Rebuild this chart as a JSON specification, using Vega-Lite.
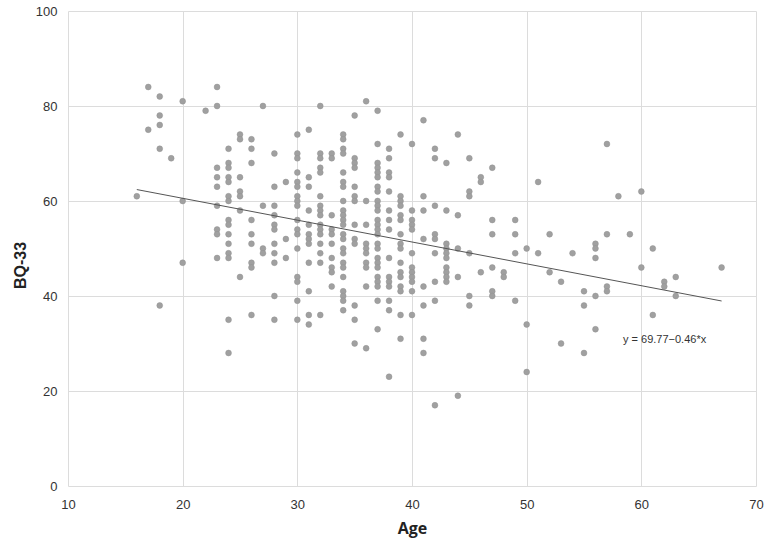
{
  "$schema": "https://vega.github.io/schema/vega-lite/v6.json",
  "width": 688,
  "height": 475,
  "autosize": {"type": "none"},
  "padding": {"left": 68, "top": 11, "right": 15, "bottom": 56},
  "background": "white",
  "config": {"view": {"stroke": null}},
  "datasets": {
    "pts": [
      {"age":16,"bq":61},
      {"age":17,"bq":84},{"age":17,"bq":75},
      {"age":18,"bq":82},{"age":18,"bq":78},{"age":18,"bq":76},{"age":18,"bq":71},{"age":18,"bq":38},
      {"age":19,"bq":69},
      {"age":20,"bq":81},{"age":20,"bq":60},{"age":20,"bq":47},
      {"age":22,"bq":79},
      {"age":23,"bq":84},{"age":23,"bq":80},{"age":23,"bq":67},{"age":23,"bq":65},{"age":23,"bq":63},{"age":23,"bq":59},{"age":23,"bq":54},{"age":23,"bq":53},{"age":23,"bq":48},
      {"age":24,"bq":71},{"age":24,"bq":68},{"age":24,"bq":67},{"age":24,"bq":65},{"age":24,"bq":64},{"age":24,"bq":61},{"age":24,"bq":60},{"age":24,"bq":56},{"age":24,"bq":55},{"age":24,"bq":53},{"age":24,"bq":51},{"age":24,"bq":49},{"age":24,"bq":48},{"age":24,"bq":35},{"age":24,"bq":28},
      {"age":25,"bq":74},{"age":25,"bq":73},{"age":25,"bq":65},{"age":25,"bq":62},{"age":25,"bq":61},{"age":25,"bq":58},{"age":25,"bq":44},
      {"age":26,"bq":73},{"age":26,"bq":71},{"age":26,"bq":68},{"age":26,"bq":56},{"age":26,"bq":53},{"age":26,"bq":51},{"age":26,"bq":47},{"age":26,"bq":46},{"age":26,"bq":36},
      {"age":27,"bq":80},{"age":27,"bq":59},{"age":27,"bq":50},{"age":27,"bq":49},
      {"age":28,"bq":70},{"age":28,"bq":63},{"age":28,"bq":59},{"age":28,"bq":57},{"age":28,"bq":55},{"age":28,"bq":54},{"age":28,"bq":51},{"age":28,"bq":49},{"age":28,"bq":47},{"age":28,"bq":40},{"age":28,"bq":35},
      {"age":29,"bq":64},{"age":29,"bq":52},{"age":29,"bq":48},
      {"age":30,"bq":74},{"age":30,"bq":70},{"age":30,"bq":69},{"age":30,"bq":66},{"age":30,"bq":64},{"age":30,"bq":63},{"age":30,"bq":61},{"age":30,"bq":60},{"age":30,"bq":59},{"age":30,"bq":56},{"age":30,"bq":54},{"age":30,"bq":53},{"age":30,"bq":50},{"age":30,"bq":44},{"age":30,"bq":43},{"age":30,"bq":39},{"age":30,"bq":35},
      {"age":31,"bq":75},{"age":31,"bq":65},{"age":31,"bq":63},{"age":31,"bq":58},{"age":31,"bq":55},{"age":31,"bq":53},{"age":31,"bq":52},{"age":31,"bq":51},{"age":31,"bq":47},{"age":31,"bq":41},{"age":31,"bq":36},{"age":31,"bq":34},
      {"age":32,"bq":80},{"age":32,"bq":70},{"age":32,"bq":69},{"age":32,"bq":67},{"age":32,"bq":66},{"age":32,"bq":61},{"age":32,"bq":59},{"age":32,"bq":58},{"age":32,"bq":57},{"age":32,"bq":55},{"age":32,"bq":54},{"age":32,"bq":53},{"age":32,"bq":51},{"age":32,"bq":49},{"age":32,"bq":47},{"age":32,"bq":36},
      {"age":33,"bq":70},{"age":33,"bq":69},{"age":33,"bq":57},{"age":33,"bq":54},{"age":33,"bq":53},{"age":33,"bq":51},{"age":33,"bq":48},{"age":33,"bq":46},{"age":33,"bq":45},{"age":33,"bq":42},
      {"age":34,"bq":74},{"age":34,"bq":73},{"age":34,"bq":71},{"age":34,"bq":70},{"age":34,"bq":66},{"age":34,"bq":64},{"age":34,"bq":63},{"age":34,"bq":60},{"age":34,"bq":58},{"age":34,"bq":57},{"age":34,"bq":56},{"age":34,"bq":55},{"age":34,"bq":53},{"age":34,"bq":52},{"age":34,"bq":50},{"age":34,"bq":49},{"age":34,"bq":47},{"age":34,"bq":46},{"age":34,"bq":44},{"age":34,"bq":41},{"age":34,"bq":40},{"age":34,"bq":39},{"age":34,"bq":37},
      {"age":35,"bq":78},{"age":35,"bq":69},{"age":35,"bq":68},{"age":35,"bq":67},{"age":35,"bq":63},{"age":35,"bq":61},{"age":35,"bq":60},{"age":35,"bq":55},{"age":35,"bq":52},{"age":35,"bq":51},{"age":35,"bq":38},{"age":35,"bq":35},{"age":35,"bq":30},
      {"age":36,"bq":81},{"age":36,"bq":60},{"age":36,"bq":55},{"age":36,"bq":51},{"age":36,"bq":50},{"age":36,"bq":49},{"age":36,"bq":47},{"age":36,"bq":46},{"age":36,"bq":42},{"age":36,"bq":29},
      {"age":37,"bq":79},{"age":37,"bq":72},{"age":37,"bq":68},{"age":37,"bq":67},{"age":37,"bq":66},{"age":37,"bq":65},{"age":37,"bq":63},{"age":37,"bq":62},{"age":37,"bq":60},{"age":37,"bq":59},{"age":37,"bq":58},{"age":37,"bq":56},{"age":37,"bq":55},{"age":37,"bq":54},{"age":37,"bq":53},{"age":37,"bq":51},{"age":37,"bq":50},{"age":37,"bq":48},{"age":37,"bq":47},{"age":37,"bq":46},{"age":37,"bq":44},{"age":37,"bq":43},{"age":37,"bq":42},{"age":37,"bq":39},{"age":37,"bq":33},
      {"age":38,"bq":71},{"age":38,"bq":69},{"age":38,"bq":66},{"age":38,"bq":65},{"age":38,"bq":62},{"age":38,"bq":58},{"age":38,"bq":56},{"age":38,"bq":54},{"age":38,"bq":48},{"age":38,"bq":44},{"age":38,"bq":43},{"age":38,"bq":42},{"age":38,"bq":39},{"age":38,"bq":37},{"age":38,"bq":23},
      {"age":39,"bq":74},{"age":39,"bq":61},{"age":39,"bq":60},{"age":39,"bq":59},{"age":39,"bq":57},{"age":39,"bq":56},{"age":39,"bq":53},{"age":39,"bq":51},{"age":39,"bq":50},{"age":39,"bq":47},{"age":39,"bq":45},{"age":39,"bq":44},{"age":39,"bq":42},{"age":39,"bq":41},{"age":39,"bq":36},{"age":39,"bq":31},
      {"age":40,"bq":72},{"age":40,"bq":58},{"age":40,"bq":56},{"age":40,"bq":55},{"age":40,"bq":54},{"age":40,"bq":49},{"age":40,"bq":46},{"age":40,"bq":45},{"age":40,"bq":44},{"age":40,"bq":43},{"age":40,"bq":41},{"age":40,"bq":36},
      {"age":41,"bq":77},{"age":41,"bq":61},{"age":41,"bq":58},{"age":41,"bq":52},{"age":41,"bq":42},{"age":41,"bq":38},{"age":41,"bq":31},{"age":41,"bq":28},
      {"age":42,"bq":71},{"age":42,"bq":69},{"age":42,"bq":59},{"age":42,"bq":53},{"age":42,"bq":52},{"age":42,"bq":49},{"age":42,"bq":43},{"age":42,"bq":39},{"age":42,"bq":17},
      {"age":43,"bq":68},{"age":43,"bq":58},{"age":43,"bq":51},{"age":43,"bq":50},{"age":43,"bq":49},{"age":43,"bq":48},{"age":43,"bq":46},{"age":43,"bq":45},{"age":43,"bq":44},{"age":43,"bq":43},
      {"age":44,"bq":74},{"age":44,"bq":57},{"age":44,"bq":50},{"age":44,"bq":44},{"age":44,"bq":19},
      {"age":45,"bq":69},{"age":45,"bq":62},{"age":45,"bq":61},{"age":45,"bq":49},{"age":45,"bq":40},{"age":45,"bq":38},
      {"age":46,"bq":65},{"age":46,"bq":64},{"age":46,"bq":45},
      {"age":47,"bq":67},{"age":47,"bq":56},{"age":47,"bq":53},{"age":47,"bq":46},{"age":47,"bq":41},{"age":47,"bq":40},
      {"age":48,"bq":45},{"age":48,"bq":44},
      {"age":49,"bq":56},{"age":49,"bq":53},{"age":49,"bq":49},{"age":49,"bq":39},
      {"age":50,"bq":50},{"age":50,"bq":34},{"age":50,"bq":24},
      {"age":51,"bq":64},{"age":51,"bq":49},
      {"age":52,"bq":53},{"age":52,"bq":45},
      {"age":53,"bq":43},{"age":53,"bq":30},
      {"age":54,"bq":49},
      {"age":55,"bq":41},{"age":55,"bq":38},{"age":55,"bq":28},
      {"age":56,"bq":51},{"age":56,"bq":50},{"age":56,"bq":48},{"age":56,"bq":40},{"age":56,"bq":33},
      {"age":57,"bq":72},{"age":57,"bq":53},{"age":57,"bq":42},{"age":57,"bq":41},
      {"age":58,"bq":61},
      {"age":59,"bq":53},
      {"age":60,"bq":62},{"age":60,"bq":46},
      {"age":61,"bq":50},{"age":61,"bq":36},
      {"age":62,"bq":43},{"age":62,"bq":42},
      {"age":63,"bq":44},{"age":63,"bq":40},
      {"age":67,"bq":46}
    ],
    "trend": [
      {"age":16,"bq":62.41},
      {"age":67,"bq":38.95}
    ],
    "label": [
      {"age":58.4,"bq":30.7,"text":"y = 69.77−0.46*x"}
    ]
  },
  "layer": [
    {
      "data": {"name": "pts"},
      "mark": {"type": "circle", "size": 34, "fill": "#a0a0a0", "stroke": "#939393", "strokeWidth": 0.5, "opacity": 1},
      "encoding": {
        "x": {
          "field": "age", "type": "quantitative",
          "scale": {"domain": [10, 70], "nice": false, "zero": false},
          "axis": {
            "title": "Age", "values": [10,20,30,40,50,60,70],
            "grid": true, "gridColor": "#dcdcdc", "gridWidth": 1,
            "domain": false, "ticks": false, "tickSize": 0,
            "labelFont": "Liberation Sans", "labelFontSize": 13, "labelColor": "#333333",
            "labelPadding": 12, "labelDx": 4, "labelFlush": false,
            "titleFont": "Open Sans", "titleFontSize": 16, "titleFontWeight": "bold", "titleColor": "#222222",
            "titleBaseline": "middle", "titleY": 42
          }
        },
        "y": {
          "field": "bq", "type": "quantitative",
          "scale": {"domain": [0, 100], "nice": false},
          "axis": {
            "title": "BQ-33", "values": [0,20,40,60,80,100],
            "grid": true, "gridColor": "#dcdcdc", "gridWidth": 1,
            "domain": false, "ticks": false, "tickSize": 0,
            "labelFont": "Liberation Sans", "labelFontSize": 13, "labelColor": "#333333",
            "labelPadding": 11, "labelFlush": false,
            "titleFont": "Liberation Sans", "titleFontSize": 16, "titleFontWeight": "bold", "titleColor": "#222222",
            "titleX": -48, "titleY": 254, "titleBaseline": "middle", "titleAngle": -90
          }
        }
      }
    },
    {
      "data": {"name": "trend"},
      "mark": {"type": "line", "color": "#555555", "strokeWidth": 1},
      "encoding": {
        "x": {"field": "age", "type": "quantitative"},
        "y": {"field": "bq", "type": "quantitative"}
      }
    },
    {
      "data": {"name": "label"},
      "mark": {"type": "text", "align": "left", "baseline": "middle", "font": "Liberation Sans", "fontSize": 11, "color": "#333333"},
      "encoding": {
        "x": {"field": "age", "type": "quantitative"},
        "y": {"field": "bq", "type": "quantitative"},
        "text": {"field": "text"}
      }
    }
  ]
}
